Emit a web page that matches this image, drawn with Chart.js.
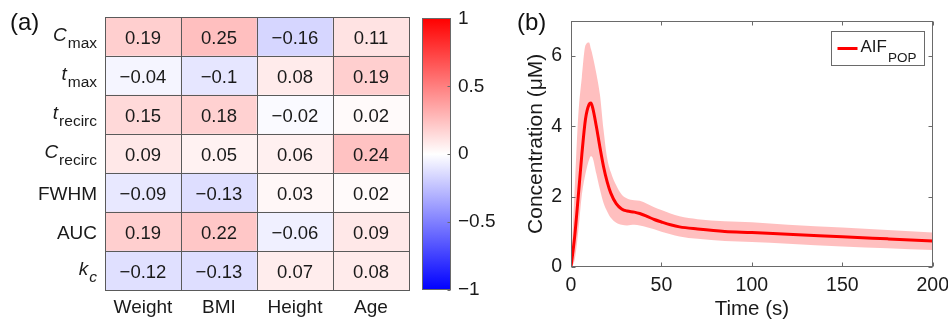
<!DOCTYPE html>
<html>
<head>
<meta charset="utf-8">
<script src="https://cdn.jsdelivr.net/npm/chart.js@4.4.1/dist/chart.umd.min.js"></script>
<style>
  body { margin: 0; background: #fff; width: 948px; height: 322px; position: relative; overflow: hidden; font-family: "Liberation Sans", Arial, sans-serif; }
  canvas { position: absolute; top: 0; }
  .tag { position: absolute; font-size: 24px; line-height: 24px; color: #111; }
</style>
</head>
<body>
<canvas id="heatChart" width="420" height="322" style="left:0"></canvas>
<canvas id="cbarChart" width="90" height="322" style="left:415px"></canvas>
<canvas id="aifChart" width="486" height="322" style="left:470px"></canvas>
<div class="tag" style="left:10px;top:10px">(a)</div>
<div class="tag" style="left:517px;top:10px">(b)</div>
<script>
// ---- panel (a): correlation table ----
const covariates = ["Weight", "BMI", "Height", "Age"];
const rowMain = ["C", "t", "t", "C", "FWHM", "AUC", "k"];
const rowSub = ["max", "max", "recirc", "recirc", "", "", "c"];
const rowItalic = [true, true, true, true, false, false, true];

const cmaxCorr = [0.19, 0.25, -0.16, 0.11];
const tmaxCorr = [-0.04, -0.1, 0.08, 0.19];
const trecircCorr = [0.15, 0.18, -0.02, 0.02];
const crecircCorr = [0.09, 0.05, 0.06, 0.24];
const fwhmCorr = [-0.09, -0.13, 0.03, 0.02];
const aucCorr = [0.19, 0.22, -0.06, 0.09];
const kcCorr = [-0.12, -0.13, 0.07, 0.08];
const corrRows = [cmaxCorr, tmaxCorr, trecircCorr, crecircCorr, fwhmCorr, aucCorr, kcCorr];

const cbarTicks = [-1, -0.5, 0, 0.5, 1];

// ---- panel (b): population AIF ----
const timeSec = [0, 2, 4, 6, 8, 10, 11, 12, 14, 16, 18, 20, 22, 25, 28, 31, 35, 38, 42, 46, 50, 55, 60, 70, 85, 100, 120, 150, 175, 200];
const aifMean = [0, 0.85, 2.0, 3.2, 4.2, 4.62, 4.66, 4.52, 4.0, 3.4, 2.85, 2.42, 2.1, 1.8, 1.65, 1.59, 1.56, 1.52, 1.44, 1.35, 1.28, 1.2, 1.14, 1.08, 1.01, 0.98, 0.93, 0.86, 0.8, 0.74];
const aifUpper = [0, 2.2, 4.3, 5.4, 6.3, 6.38, 6.2, 6.0, 5.5, 4.9, 3.9, 3.1, 2.7, 2.32, 2.06, 1.95, 1.9, 1.88, 1.8, 1.7, 1.62, 1.52, 1.44, 1.36, 1.3, 1.27, 1.2, 1.12, 1.05, 0.98];
const aifLower = [0, 0.2, 1.0, 2.05, 2.65, 3.05, 3.15, 3.1, 2.65, 2.2, 1.82, 1.58, 1.4, 1.26, 1.2, 1.18, 1.2, 1.18, 1.13, 1.07, 1.0, 0.93, 0.87, 0.8, 0.74, 0.71, 0.66, 0.58, 0.53, 0.48];
const timeTicks = [0, 50, 100, 150, 200];
const concTicks = [0, 2, 4, 6];

const FONT = '"Liberation Sans", Arial, sans-serif';
const TEXT = "#1a1a1a";
const AXIS = "#6a6a6a";

function fmtNum(v) {
  return String(v).replace("-", "\u2212");
}

// blue - white - red map
function corrColor(v) {
  const a = Math.min(1, Math.abs(v));
  const c = Math.round(255 * (1 - a));
  return v >= 0 ? `rgb(255,${c},${c})` : `rgb(${c},${c},255)`;
}

function drawRowLabel(ctx, i, xRight, yc) {
  const main = rowMain[i], sub = rowSub[i];
  const mainFont = (rowItalic[i] ? "italic " : "") + "19px " + FONT;
  ctx.textAlign = "left";
  ctx.textBaseline = "alphabetic";
  if (!sub) {
    ctx.font = mainFont;
    ctx.fillText(main, xRight - ctx.measureText(main).width, yc + 7.5);
    return;
  }
  const subFont = (sub === "c" ? "italic " : "") + "15.5px " + FONT;
  ctx.font = subFont;
  const ws = ctx.measureText(sub).width;
  ctx.font = mainFont;
  const wm = ctx.measureText(main).width;
  ctx.fillText(main, xRight - ws - wm - 1, yc + 4);
  ctx.font = subFont;
  ctx.fillText(sub, xRight - ws, yc + 11);
}

const heatLabels = {
  id: "heatLabels",
  afterDatasetsDraw(chart) {
    const { ctx, chartArea } = chart;
    ctx.save();
    ctx.strokeStyle = "#5a5a5a";
    ctx.lineWidth = 1;
    ctx.fillStyle = TEXT;
    chart.data.datasets.forEach((ds, di) => {
      const meta = chart.getDatasetMeta(di);
      meta.data.forEach((bar, j) => {
        const top = Math.min(bar.y, bar.base);
        const h = Math.abs(bar.base - bar.y);
        const left = bar.x - bar.width / 2;
        ctx.strokeRect(Math.round(left) + 0.5, Math.round(top) + 0.5, Math.round(bar.width), Math.round(h));
        ctx.font = "18.5px " + FONT;
        ctx.textAlign = "center";
        ctx.textBaseline = "alphabetic";
        ctx.fillText(fmtNum(ds.corr[j]), bar.x, top + h / 2 + 7.5);
      });
      const first = meta.data[0];
      drawRowLabel(ctx, ds.rowIdx, chartArea.left - 8, (first.y + first.base) / 2);
    });
    ctx.font = "19px " + FONT;
    ctx.textAlign = "center";
    ctx.textBaseline = "alphabetic";
    chart.getDatasetMeta(0).data.forEach((bar, j) => {
      ctx.fillText(chart.data.labels[j], bar.x, chartArea.bottom + 23);
    });
    ctx.restore();
  }
};

// bottom row first so the table reads top-down
const heatDatasets = corrRows.map((row, i) => ({
  rowIdx: i,
  corr: row,
  data: row.map(() => 1),
  backgroundColor: row.map(corrColor),
  borderWidth: 0,
  barPercentage: 1,
  categoryPercentage: 1
})).reverse();

new Chart(document.getElementById("heatChart"), {
  type: "bar",
  data: { labels: covariates, datasets: heatDatasets },
  options: {
    responsive: false,
    animation: false,
    layout: { autoPadding: false, padding: { left: 105, top: 17, right: 11, bottom: 32 } },
    plugins: { legend: { display: false }, tooltip: { enabled: false } },
    scales: {
      x: { stacked: true, display: false },
      y: { stacked: true, display: false, min: 0, max: corrRows.length }
    }
  },
  plugins: [heatLabels]
});

// colorbar
const cbarFrame = {
  id: "cbarFrame",
  afterDraw(chart) {
    const { ctx, chartArea: a, scales: { y } } = chart;
    ctx.save();
    ctx.strokeStyle = AXIS;
    ctx.lineWidth = 1;
    const l = Math.round(a.left) + 0.5, r = Math.round(a.right) - 0.5;
    ctx.strokeRect(l, Math.round(a.top) + 0.5, r - l, Math.round(a.bottom - a.top) - 1);
    ctx.beginPath();
    cbarTicks.forEach(v => {
      const py = Math.round(y.getPixelForValue(v)) + 0.5;
      ctx.moveTo(r, py);
      ctx.lineTo(r - 3, py);
    });
    ctx.stroke();
    ctx.restore();
  }
};

new Chart(document.getElementById("cbarChart"), {
  type: "bar",
  data: {
    labels: [""],
    datasets: [{
      data: [[cbarTicks[0], cbarTicks[cbarTicks.length - 1]]],
      backgroundColor(c) {
        const area = c.chart.chartArea;
        if (!area) return "#fff";
        const g = c.chart.ctx.createLinearGradient(0, area.bottom, 0, area.top);
        g.addColorStop(0, corrColor(-1));
        g.addColorStop(0.5, corrColor(0));
        g.addColorStop(1, corrColor(1));
        return g;
      },
      borderWidth: 0,
      barPercentage: 1,
      categoryPercentage: 1
    }]
  },
  options: {
    responsive: false,
    animation: false,
    layout: { autoPadding: false, padding: { left: 7, top: 17, right: 0, bottom: 32 } },
    plugins: { legend: { display: false }, tooltip: { enabled: false } },
    scales: {
      x: { display: false },
      y: {
        position: "right",
        min: -1,
        max: 1,
        afterBuildTicks(s) { s.ticks = cbarTicks.map(v => ({ value: v })); },
        afterFit(s) { s.width = 54; },
        grid: { display: false, drawTicks: false },
        border: { display: false },
        ticks: { padding: 7, color: TEXT, font: { family: FONT, size: 19 }, callback: v => fmtNum(v) }
      }
    }
  },
  plugins: [cbarFrame]
});

// MATLAB style box, inward ticks and legend with subscript
const matlabBox = {
  id: "matlabBox",
  afterDraw(chart) {
    const { ctx, chartArea: a, scales: { x, y } } = chart;
    const L = Math.round(a.left) + 0.5, R = Math.round(a.right) - 0.5;
    const T = Math.round(a.top) + 0.5, B = Math.round(a.bottom) - 0.5;
    ctx.save();
    ctx.strokeStyle = AXIS;
    ctx.lineWidth = 1;
    ctx.strokeRect(L, T, R - L, B - T);
    ctx.beginPath();
    timeTicks.forEach(v => {
      const px = Math.round(x.getPixelForValue(v)) + 0.5;
      ctx.moveTo(px, B); ctx.lineTo(px, B - 4);
      ctx.moveTo(px, T); ctx.lineTo(px, T + 4);
    });
    concTicks.forEach(v => {
      const py = Math.round(y.getPixelForValue(v)) + 0.5;
      ctx.moveTo(L, py); ctx.lineTo(L + 4, py);
      ctx.moveTo(R, py); ctx.lineTo(R - 4, py);
    });
    ctx.stroke();

    // legend
    const bx = Math.round(a.right) - 102 + 0.5, by = Math.round(a.top) + 10 + 0.5;
    ctx.fillStyle = "#fff";
    ctx.fillRect(bx, by, 93, 34);
    ctx.strokeRect(bx, by, 93, 34);
    ctx.strokeStyle = "#ff0000";
    ctx.lineWidth = 3;
    ctx.beginPath();
    ctx.moveTo(bx + 6, by + 17);
    ctx.lineTo(bx + 26, by + 17);
    ctx.stroke();
    ctx.fillStyle = TEXT;
    ctx.textAlign = "left";
    ctx.textBaseline = "alphabetic";
    ctx.font = "17px " + FONT;
    ctx.fillText("AIF", bx + 29, by + 20);
    const w = ctx.measureText("AIF").width;
    ctx.font = "13.5px " + FONT;
    ctx.fillText("POP", bx + 30 + w, by + 30);
    ctx.restore();
  }
};

const pts = arr => timeSec.map((t, i) => ({ x: t, y: arr[i] }));

new Chart(document.getElementById("aifChart"), {
  type: "line",
  data: {
    datasets: [
      { label: "AIF POP", data: pts(aifMean), borderColor: "#ff0000", borderWidth: 3, pointRadius: 0, fill: false, cubicInterpolationMode: "monotone" },
      { label: "upper", data: pts(aifUpper), borderWidth: 0, borderColor: "rgba(0,0,0,0)", pointRadius: 0, fill: "+1", backgroundColor: "rgba(255,0,0,0.25)", cubicInterpolationMode: "monotone" },
      { label: "lower", data: pts(aifLower), borderWidth: 0, borderColor: "rgba(0,0,0,0)", pointRadius: 0, fill: false, cubicInterpolationMode: "monotone" }
    ]
  },
  options: {
    responsive: false,
    animation: false,
    layout: { autoPadding: false, padding: { left: 0, top: 17, right: 17, bottom: 0 } },
    plugins: { legend: { display: false }, tooltip: { enabled: false } },
    scales: {
      x: {
        type: "linear",
        min: 0,
        max: 200,
        afterBuildTicks(s) { s.ticks = timeTicks.map(v => ({ value: v })); },
        afterFit(s) { s.height = 55; },
        grid: { display: false, drawTicks: false },
        border: { display: false },
        ticks: { padding: 7, maxRotation: 0, color: TEXT, font: { family: FONT, size: 19.5 } },
        title: { display: true, text: "Time (s)", color: TEXT, font: { family: FONT, size: 20.5 }, padding: { top: 0, bottom: 0 } }
      },
      y: {
        min: 0,
        max: 7,
        afterBuildTicks(s) { s.ticks = concTicks.map(v => ({ value: v })); },
        afterFit(s) { s.width = 101; },
        grid: { display: false, drawTicks: false },
        border: { display: false },
        ticks: { padding: 9, color: TEXT, font: { family: FONT, size: 19.5 } },
        title: { display: true, text: "Concentration (\u03bcM)", color: TEXT, font: { family: FONT, size: 21 }, padding: { top: 54, bottom: 0 } }
      }
    }
  },
  plugins: [matlabBox]
});
</script>
</body>
</html>
